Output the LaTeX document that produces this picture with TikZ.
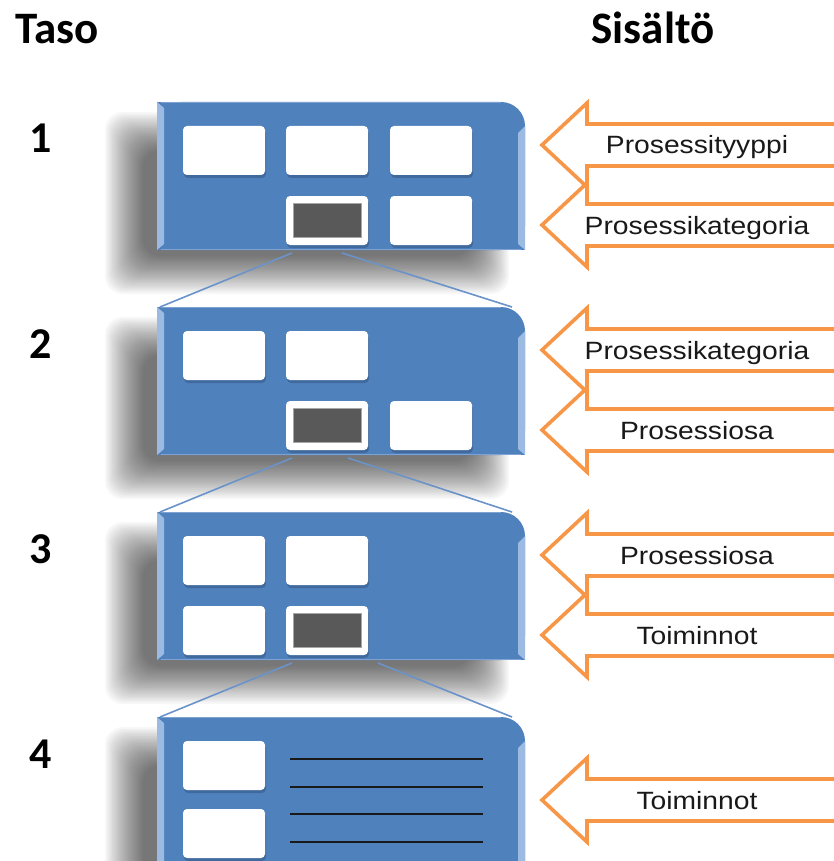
\documentclass[tikz,border=0pt]{standalone}
\usepackage{fontspec}
\usepackage{graphicx}
\setmainfont{Liberation Sans}
\newfontfamily\headfont{Carlito}

\definecolor{panelblue}{HTML}{4F81BD}
\definecolor{bevelblue}{HTML}{9BBBE3}
\definecolor{edgeblue}{HTML}{7EA3D2}
\definecolor{linkblue}{HTML}{6A93C9}
\definecolor{arroworange}{HTML}{F79646}
\definecolor{slot}{HTML}{595959}
\definecolor{boxshade}{HTML}{2E5079}

\tikzset{
  headtext/.style={font=\headfont\bfseries\fontsize{45}{50}\selectfont, inner sep=0pt, anchor=base},
  leveltext/.style={font=\headfont\bfseries\fontsize{44}{50}\selectfont, inner sep=0pt, anchor=base},
  inlabel/.style={font=\fontsize{25}{30}\selectfont, text=black!90, inner sep=0pt, anchor=base},
  inarrowshape/.style={draw=arroworange, line width=3.6pt, fill=white, line join=miter},
  link/.style={draw=linkblue, line width=1.6pt},
  whitebox/.style={fill=white, rounded corners=4pt},
  rule/.style={draw=black!90, line width=2pt},
}

% soft drop shadow under a panel: #1 left x, #2 top y, #3 height
\newcommand\panelshadow[3]{%
  \foreach \k in {0,...,21}{%
    \fill[black, opacity=0.03, rounded corners=18pt]
      (#1-32-20+\k*1.8, #2+30-20+\k*1.8) rectangle (#1+368-36+20-\k*1.8, #2+#3+24+20-\k*1.8);
  }}

% blue panel with a rounded top right corner and bevelled side edges
\newcommand\panelbody[3]{%
  \fill[panelblue, rounded corners=24pt] (#1,#2) rectangle (#1+368,#2+#3);
  \fill[panelblue] (#1,#2) rectangle (#1+40,#2+#3);
  \fill[panelblue] (#1,#2+40) rectangle (#1+368,#2+#3);
  \fill[bevelblue] (#1,#2) -- (#1+7,#2+6) -- (#1+7,#2+#3-6) -- (#1,#2+#3) -- cycle;
  \fill[bevelblue] (#1+368,#2+24) -- (#1+361,#2+31) -- (#1+361,#2+#3-6) -- (#1+368,#2+#3) -- cycle;
  \draw[edgeblue, line width=1pt] (#1+4,#2+0.5) -- (#1+344,#2+0.5);
  \draw[edgeblue, line width=1.4pt] (#1+4,#2+#3-0.7) -- (#1+364,#2+#3-0.7);
}

% white card with a faint shadow: #1 x, #2 y
\newcommand\card[2]{%
  \fill[boxshade, opacity=0.45, rounded corners=4pt] (#1+1,#2+3) rectangle (#1+83,#2+52);
  \fill[whitebox] (#1,#2) rectangle (#1+82,#2+49);
}

% selected card with a dark slot inside
\newcommand\darkcard[2]{%
  \card{#1}{#2}
  \fill[slot, draw=black!35, line width=0.8pt] (#1+7,#2+7) rectangle (#1+75,#2+41);
}

% incoming arrow pointing left: #1 node name, #2 tip y, #3 label
\newcommand\inarrow[3]{%
  \draw[inarrowshape] (542,#2) -- (587,#2-42) -- (587,#2-21) -- (870,#2-21)
        -- (870,#2+21) -- (587,#2+21) -- (587,#2+42) -- cycle;
  \node[inlabel] (#1) at (697,#2+9) {\scalebox{1.13}[1]{#3}};
}

\begin{document}
\begin{tikzpicture}[x=1pt,y=-1pt]
  \path[use as bounding box] (0,0) rectangle (834,861);
  \clip (0,0) rectangle (834,861);
  \fill[white] (0,0) rectangle (834,861);

  % column headings
  \node[headtext] (taso) at (57,44) {Taso};
  \node[headtext] (sisalto) at (653,44) {Sisältö};

  % level numbers
  \node[leveltext] (n1) at (41,153) {1};
  \node[leveltext] (n2) at (41,358) {2};
  \node[leveltext] (n3) at (41,563) {3};
  \node[leveltext] (n4) at (41,768) {4};

  % shadows
  \panelshadow{157}{102}{148}
  \panelshadow{157}{307}{148}
  \panelshadow{157}{512}{148}
  \panelshadow{157}{717}{200}

  % level 1
  \panelbody{157}{102}{148}
  \card{183}{126} \card{286}{126} \card{390}{126}
  \darkcard{286}{196} \card{390}{196}

  % level 2
  \panelbody{157}{307}{148}
  \card{183}{331} \card{286}{331}
  \darkcard{286}{401} \card{390}{401}

  % level 3
  \panelbody{157}{512}{148}
  \card{183}{536} \card{286}{536}
  \card{183}{606} \darkcard{286}{606}

  % level 4
  \panelbody{157}{717}{200}
  \card{183}{741} \card{183}{809}
  \foreach \yy in {759,787,814,842}{
    \draw[rule] (290,\yy) -- (483,\yy);
  }

  % zoom links between levels
  \coordinate (z1l) at (292,253);  \coordinate (z1r) at (342,253);
  \coordinate (z2l) at (292,458);  \coordinate (z2r) at (348,458);
  \coordinate (z3l) at (292,663);  \coordinate (z3r) at (378,663);
  \coordinate (t2l) at (160,307);  \coordinate (t2r) at (512,307);
  \coordinate (t3l) at (160,512);  \coordinate (t3r) at (512,512);
  \coordinate (t4l) at (160,717);  \coordinate (t4r) at (512,717);
  \draw[link] (z1l) -- (t2l);  \draw[link] (z1r) -- (t2r);
  \draw[link] (z2l) -- (t3l);  \draw[link] (z2r) -- (t3r);
  \draw[link] (z3l) -- (t4l);  \draw[link] (z3r) -- (t4r);

  % content arrows
  \inarrow{a12}{225}{Prosessikategoria}
  \inarrow{a11}{145}{Prosessityyppi}
  \inarrow{a22}{430}{Prosessiosa}
  \inarrow{a21}{350}{Prosessikategoria}
  \inarrow{a32}{635}{Toiminnot}
  \inarrow{a31}{555}{Prosessiosa}
  \inarrow{a41}{800}{Toiminnot}
\end{tikzpicture}
\end{document}
